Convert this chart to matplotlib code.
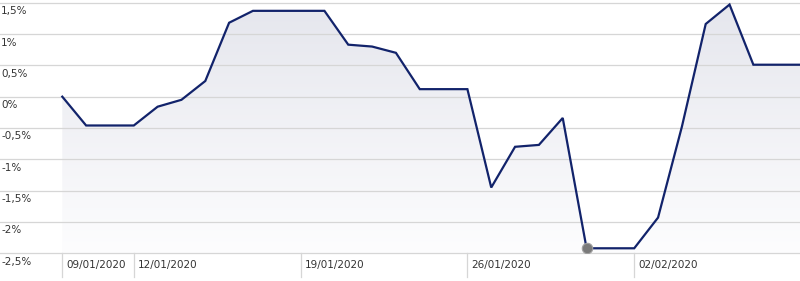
import matplotlib
matplotlib.use("Agg")
import matplotlib.pyplot as plt
import matplotlib.dates as mdates
import numpy as np
import pandas as pd
from matplotlib.colors import LinearSegmentedColormap

start_date = "2020-01-09"
values = [0.00, -0.46, -0.46, -0.46, -0.16, -0.05, 0.25, 1.18, 1.37, 1.37,
          1.37, 1.37, 0.83, 0.80, 0.70, 0.12, 0.12, 0.12, -1.45, -0.80,
          -0.77, -0.34, -2.42, -2.42, -2.42, -1.93, -0.48, 1.16, 1.47, 0.51,
          0.51, 0.51]
y_ticks = [1.5, 1.0, 0.5, 0.0, -0.5, -1.0, -1.5, -2.0, -2.5]
y_tick_labels = ["1,5%", "1%", "0,5%", "0%", "-0,5%", "-1%", "-1,5%", "-2%", "-2,5%"]
x_tick_dates = ["2020-01-09", "2020-01-12", "2020-01-19", "2020-01-26", "2020-02-02"]
x_tick_labels = ["09/01/2020", "12/01/2020", "19/01/2020", "26/01/2020", "02/02/2020"]
marker_date = "2020-01-31"

dates = pd.date_range(start_date, periods=len(values), freq="D")
xnum = mdates.date2num(dates)
vals = np.array(values)

fig = plt.figure(figsize=(8.0, 2.81), dpi=100)
ax = fig.add_axes([0.0, (281 - 253.3) / 281, 1.0, 253.3 / 281])

ymin, ymax = -2.5, 1.543
x0 = xnum[0] - 62.3 / 23.83
x1 = xnum[0] + (800 - 62.3) / 23.83
ax.set_xlim(x0, x1)
ax.set_ylim(ymin, ymax)

# gradient fill
poly = ax.fill_between(xnum, vals, ymin, color="none", lw=0)
cmap = LinearSegmentedColormap.from_list("g", ["#fdfdfe", "#e5e6ed"])
grad = np.linspace(0, 1, 256).reshape(-1, 1)
im = ax.imshow(grad, cmap=cmap, aspect="auto", origin="lower",
               extent=[x0, x1, ymin, ymax], zorder=1)
im.set_clip_path(poly.get_paths()[0], transform=ax.transData)

# gridlines
for yv in y_ticks:
    ax.axhline(yv, color="#d6d6d6", lw=0.9, zorder=2, clip_on=False)

ax.plot(xnum, vals, color="#12236b", lw=1.6, zorder=3, solid_joinstyle="miter")

mx = mdates.date2num(pd.Timestamp(marker_date))
mv = vals[list(xnum).index(mx)]
ax.plot([mx], [mv], "o", ms=7.5, mfc="#7a7a7a", mec="#a0a0a0", mew=0.8, zorder=4)

for s in ax.spines.values():
    s.set_visible(False)
ax.set_xticks([])
ax.set_yticks([])

# y labels
for yv, lab in zip(y_ticks, y_tick_labels):
    ax.annotate(lab, xy=(0, yv), xycoords=("axes fraction", "data"),
                xytext=(1, -8.5), textcoords="offset pixels",
                ha="left", va="center", fontsize=7.5, color="#333333",
                annotation_clip=False)

# x ticks
for d, lab in zip(x_tick_dates, x_tick_labels):
    xv = mdates.date2num(pd.Timestamp(d))
    ax.plot([xv, xv], [0, -23.4 / 253.3], color="#d6d6d6", lw=0.9,
            transform=ax.get_xaxis_transform(), clip_on=False)
    ax.annotate(lab, xy=(xv, 0), xycoords=("data", "axes fraction"),
                xytext=(4, -11.7), textcoords="offset pixels",
                ha="left", va="center", fontsize=7.5, color="#333333",
                annotation_clip=False)

fig.savefig("out.png", dpi=100)
